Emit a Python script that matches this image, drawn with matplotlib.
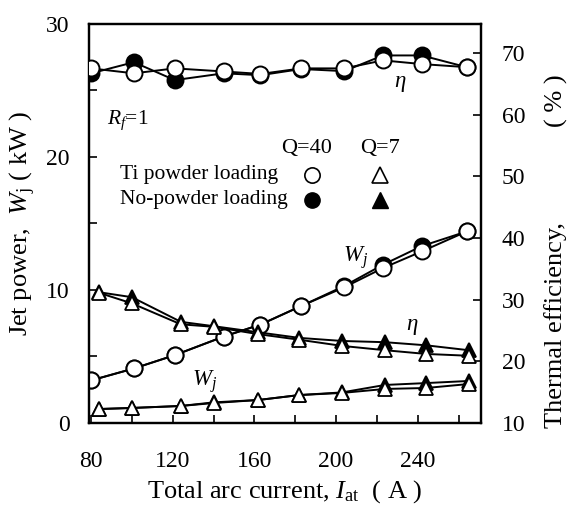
import matplotlib
matplotlib.use("Agg")
import matplotlib.pyplot as plt

plt.rcParams['font.family'] = ['Liberation Serif', 'DejaVu Serif']
plt.rcParams['mathtext.fontset'] = 'custom'
plt.rcParams['mathtext.rm'] = 'Liberation Serif'
plt.rcParams['mathtext.it'] = 'Liberation Serif:italic'

# arc current (A)
x_q40 = [80, 101, 121, 145, 163, 183, 204, 223, 242, 264]
x_q7 = [84, 100, 124, 140, 162, 182, 203, 224, 244, 265]

# jet power (kW)
w_q40_ti = [3.2, 4.1, 5.1, 6.5, 7.4, 8.8, 10.2, 11.65, 12.9, 14.4]
w_q40_no = [3.2, 4.1, 5.1, 6.5, 7.4, 8.8, 10.3, 11.9, 13.3, 14.4]
w_q7_ti = [1.05, 1.13, 1.28, 1.5, 1.73, 2.1, 2.26, 2.56, 2.63, 2.93]
w_q7_no = [1.05, 1.13, 1.28, 1.55, 1.73, 2.1, 2.3, 2.86, 3.0, 3.16]

# thermal efficiency (%)
eta_q40_ti = [67.5, 66.7, 67.5, 67.0, 66.6, 67.5, 67.5, 68.8, 68.2, 67.7]
eta_q40_no = [66.7, 68.5, 65.6, 66.7, 66.4, 67.4, 67.05, 69.6, 69.6, 67.7]
eta_q7_ti = [31.1, 29.4, 26.0, 25.6, 24.4, 23.5, 22.5, 21.8, 21.2, 20.9]
eta_q7_no = [31.2, 30.4, 26.4, 25.7, 24.7, 23.8, 23.3, 23.1, 22.6, 21.8]

fig = plt.figure(figsize=(5.69, 5.05), dpi=100)
ax = fig.add_axes([0.1564, 0.1624, 0.6889, 0.7901])
ax2 = ax.twinx()

lw = 1.4
circ = dict(marker='o', ms=11.5, mew=1.4, mec='black', color='black', lw=lw)
tri = dict(marker='^', ms=10, mew=1.3, mec='black', color='black', lw=lw)

# filled (no powder) first, open (Ti powder) on top
ax.plot(x_q40, w_q40_no, mfc='black', zorder=2, **circ)
ax.plot(x_q40, w_q40_ti, mfc='white', zorder=3, **circ)
ax.plot(x_q7, w_q7_no, mfc='black', zorder=2, **tri)
ax.plot(x_q7, w_q7_ti, mfc='white', zorder=3, **tri)

ax2.plot(x_q40, eta_q40_no, mfc='black', zorder=2, **circ)
ax2.plot(x_q40, eta_q40_ti, mfc='white', zorder=3, **circ)
ax2.plot(x_q7, eta_q7_no, mfc='black', zorder=2, **tri)
ax2.plot(x_q7, eta_q7_ti, mfc='white', zorder=3, **tri)

ax.set_xlim(79, 271)
ax.set_ylim(0, 30)
ax2.set_ylim(10, 74.7)

ax.set_xticks(range(80, 261, 20))
ax.set_xticklabels([str(v) if v % 40 == 0 else '' for v in range(80, 261, 20)])
ax.set_yticks(range(0, 31, 5))
ax.set_yticklabels([str(v) if v % 10 == 0 else '' for v in range(0, 31, 5)])
ax2.set_yticks(range(10, 71, 10))

for a in (ax, ax2):
    a.tick_params(direction='in', length=6, width=1.2, labelsize=17)
    for s in a.spines.values():
        s.set_linewidth(1.6)
ax.tick_params(axis='x', pad=20)
ax.tick_params(axis='y', pad=14)
ax2.tick_params(axis='y', pad=15)

fig.text(285 / 569, 1 - 492 / 505, r'Total arc current, $I_{\mathrm{at}}$  ( A )',
         fontsize=19, ha='center', va='center')
fig.text(23 / 569, 1 - 336 / 505, r'Jet power,  $W_{\mathrm{j}}$ ( kW )',
         fontsize=19, rotation=90, ha='center', va='bottom')
fig.text(556 / 569, 1 - 428 / 505, 'Thermal efficiency,',
         fontsize=19, rotation=90, ha='center', va='bottom')
fig.text(556 / 569, 1 - 101 / 505, '( % )',
         fontsize=19, rotation=90, ha='center', va='center')

T = ax.transAxes
ax.text(0.046, 0.759, r'$R_f$=1', transform=T, fontsize=15.5, va='center')
ax.text(0.556, 0.689, 'Q=40', transform=T, fontsize=16, ha='center', va='center')
ax.text(0.742, 0.689, 'Q=7', transform=T, fontsize=16, ha='center', va='center')
ax.text(0.079, 0.622, 'Ti powder loading', transform=T, fontsize=15.5, va='center')
ax.text(0.079, 0.559, 'No-powder loading', transform=T, fontsize=15.5, va='center')
ax.plot([0.569], [0.622], 'o', ms=11, mfc='white', mec='black', mew=1.2, transform=T, clip_on=False)
ax.plot([0.569], [0.559], 'o', ms=11, mfc='black', mec='black', transform=T, clip_on=False)
ax.plot([0.742], [0.622], '^', ms=11, mfc='white', mec='black', mew=1.2, transform=T, clip_on=False)
ax.plot([0.742], [0.559], '^', ms=11, mfc='black', mec='black', transform=T, clip_on=False)

ax.text(0.793, 0.852, r'$\eta$', transform=T, fontsize=16.5, ha='center', va='center')
ax.text(0.824, 0.241, r'$\eta$', transform=T, fontsize=16.5, ha='center', va='center')
ax.text(0.679, 0.414, r'$W_j$', transform=T, fontsize=16.5, ha='center', va='center')
ax.text(0.296, 0.103, r'$W_j$', transform=T, fontsize=16.5, ha='center', va='center')

fig.savefig('out.png', dpi=100)
